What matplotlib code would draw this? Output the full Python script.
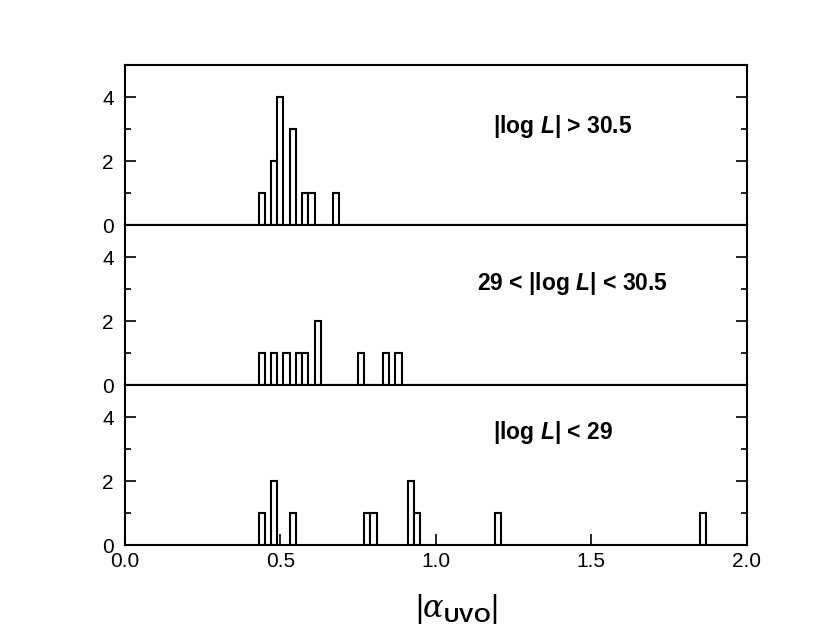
import matplotlib
matplotlib.use("Agg")
import matplotlib.pyplot as plt
from matplotlib.ticker import MultipleLocator

plt.rcParams["font.family"] = ["Liberation Sans", "DejaVu Sans"]
plt.rcParams["mathtext.fontset"] = "custom"
plt.rcParams["mathtext.rm"] = "Liberation Sans"
plt.rcParams["mathtext.it"] = "DejaVu Serif:italic"
plt.rcParams["mathtext.bf"] = "Liberation Sans:bold"
plt.rcParams["mathtext.sf"] = "Liberation Sans:bold:italic"

# bin centres and counts
high_x = [0.44, 0.48, 0.50, 0.54, 0.58, 0.60, 0.68]
high_n = [1, 2, 4, 3, 1, 1, 1]

mid_x = [0.44, 0.48, 0.52, 0.56, 0.58, 0.62, 0.76, 0.84, 0.88]
mid_n = [1, 1, 1, 1, 1, 2, 1, 1, 1]

low_x = [0.44, 0.48, 0.54, 0.78, 0.80, 0.92, 0.94, 1.20, 1.86]
low_n = [1, 2, 1, 1, 1, 2, 1, 1, 1]

labels = [r"|log $\mathsf{L}$| > 30.5",
          r"29 < |log $\mathsf{L}$| < 30.5",
          r"|log $\mathsf{L}$| < 29"]
label_pos = [(1.184, 3.07), (1.133, 3.16), (1.184, 3.53)]

panels = [(high_x, high_n), (mid_x, mid_n), (low_x, low_n)]

fig, axes = plt.subplots(3, 1, figsize=(8.3, 6.4), dpi=100, sharex=True)
fig.subplots_adjust(left=0.1506, right=0.8994, bottom=0.1484, top=0.8984,
                    hspace=0)

for ax, (xs, ns), lab, (tx, ty) in zip(axes, panels, labels, label_pos):
    ax.bar(xs, ns, width=0.02, color="white", edgecolor="black",
           linewidth=1.5)
    ax.set_xlim(0, 2.0)
    ax.set_ylim(0, 5)
    ax.yaxis.set_major_locator(MultipleLocator(2))
    ax.yaxis.set_minor_locator(MultipleLocator(1))
    ax.tick_params(axis="y", which="both", direction="in", left=True,
                   right=True, labelsize=15, pad=8)
    ax.tick_params(axis="y", which="major", length=8, width=1.2)
    ax.tick_params(axis="y", which="minor", length=4, width=1.2)
    ax.tick_params(axis="x", which="both", direction="in", top=False,
                   bottom=False, length=8, width=1.2)
    for s in ax.spines.values():
        s.set_linewidth(1.5)
    ax.text(tx, ty, lab, fontsize=16.5, fontweight="bold", va="center",
            ha="left")

axes[-1].set_xticks([0.0, 0.5, 1.0, 1.5, 2.0])
axes[-1].set_xticklabels(["0.0", "0.5", "1.0", "1.5", "2.0"])
axes[-1].tick_params(axis="x", bottom=True, labelbottom=True, labelsize=15,
                     pad=5)
axes[-1].set_xlabel(r"$|\alpha_{\mathbf{UVO}}|$", fontsize=22)
axes[-1].xaxis.set_label_coords(0.533, -0.295)

fig.savefig("out.png", dpi=100)
